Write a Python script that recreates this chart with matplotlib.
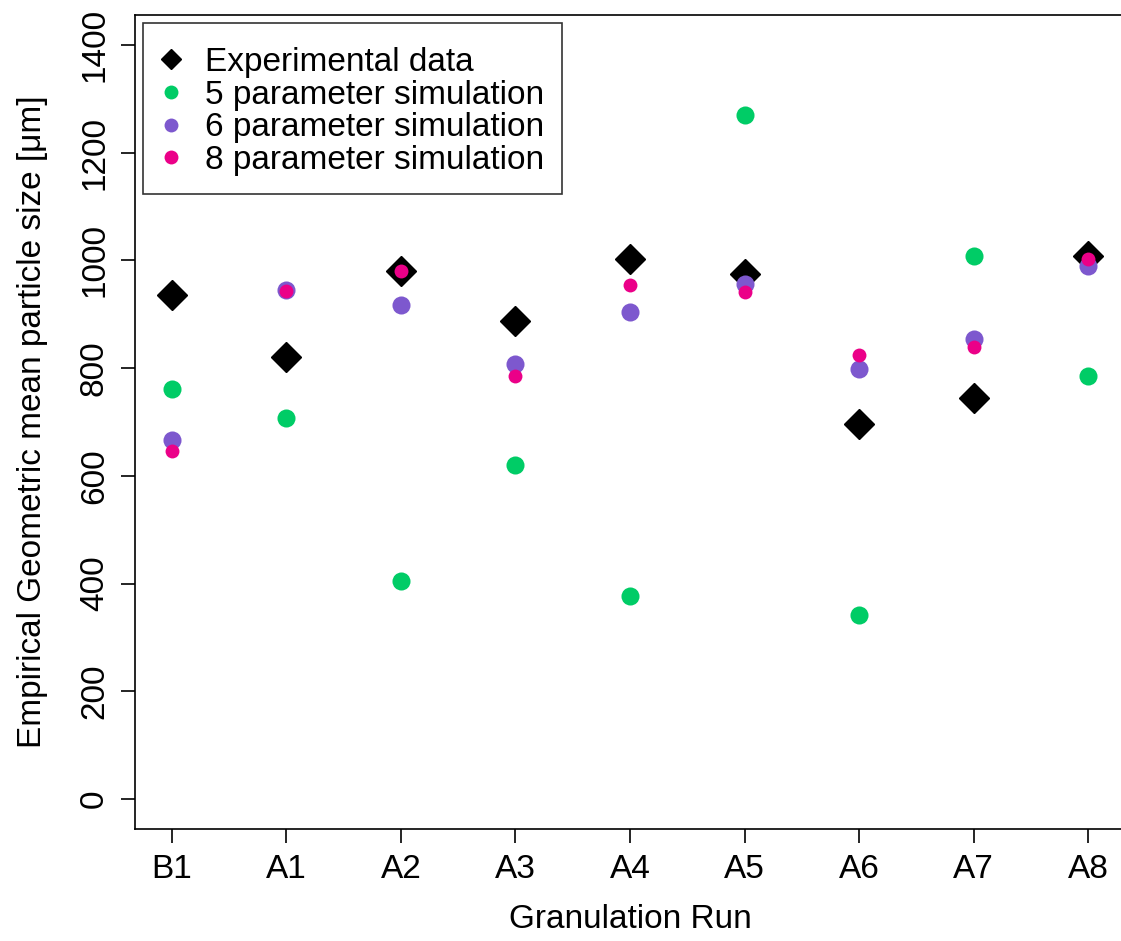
import matplotlib
matplotlib.use("Agg")
import matplotlib.pyplot as plt

runs = ["B1", "A1", "A2", "A3", "A4", "A5", "A6", "A7", "A8"]
experimental = [935, 820, 981, 887, 1002, 974, 697, 745, 1009]
sim5 = [762, 708, 405, 621, 376, 1270, 342, 1008, 786]
sim6 = [666, 946, 918, 807, 905, 957, 799, 855, 989]
sim8 = [647, 944, 981, 785, 954, 941, 825, 840, 1002]
yticks = [0, 200, 400, 600, 800, 1000, 1200, 1400]

plt.rcParams['font.family'] = ['Liberation Sans', 'DejaVu Sans']

fig = plt.figure(figsize=(11.21, 9.41), dpi=100)
ax = fig.add_axes([135/1121, 1-829/941, (1125-135)/1121, (829-15)/941])

x = list(range(len(runs)))
ax.plot(x, experimental, 'D', color='black', markersize=15.5, linestyle='none', label='Experimental data')
ax.plot(x, sim5, 'o', color='#00CC66', markersize=13, markeredgewidth=0, linestyle='none', label='5 parameter simulation')
ax.plot(x, sim6, 'o', color='#7D58CE', markersize=13, markeredgewidth=0, linestyle='none', label='6 parameter simulation')
ax.plot(x, sim8, 'o', color='#EB0088', markersize=10, markeredgewidth=0, linestyle='none', label='8 parameter simulation')

ax.set_xlim(-0.32, 8.32)
ax.set_ylim(-56, 1456)
ax.set_xticks(x)
ax.set_xticklabels(runs)
ax.set_yticks(yticks)
ax.set_yticklabels([str(v) for v in yticks], rotation=90, va='center')
ax.tick_params(axis='both', direction='out', length=10, width=1.2, labelsize=24, pad=8)
for s in ax.spines.values():
    s.set_linewidth(1.2)

ax.set_xlabel('Granulation Run', fontsize=24, labelpad=14)
ax.set_ylabel('Empirical Geometric mean particle size [\u03bcm]', fontsize=24, labelpad=22)

leg = ax.legend(loc='upper left', bbox_to_anchor=(8/990, 1-8/814), fontsize=24, frameon=True,
                fancybox=False, edgecolor='black', borderaxespad=0, handlelength=0.6,
                handletextpad=0.7, labelspacing=0.05, borderpad=0.55,
                title=' ', title_fontsize=3)
leg.get_frame().set_linewidth(1.2)
for i, h in enumerate(leg.legend_handles):
    h.set_markersize(10.5 if i == 0 else 10)

fig.savefig('out.png', dpi=100)
